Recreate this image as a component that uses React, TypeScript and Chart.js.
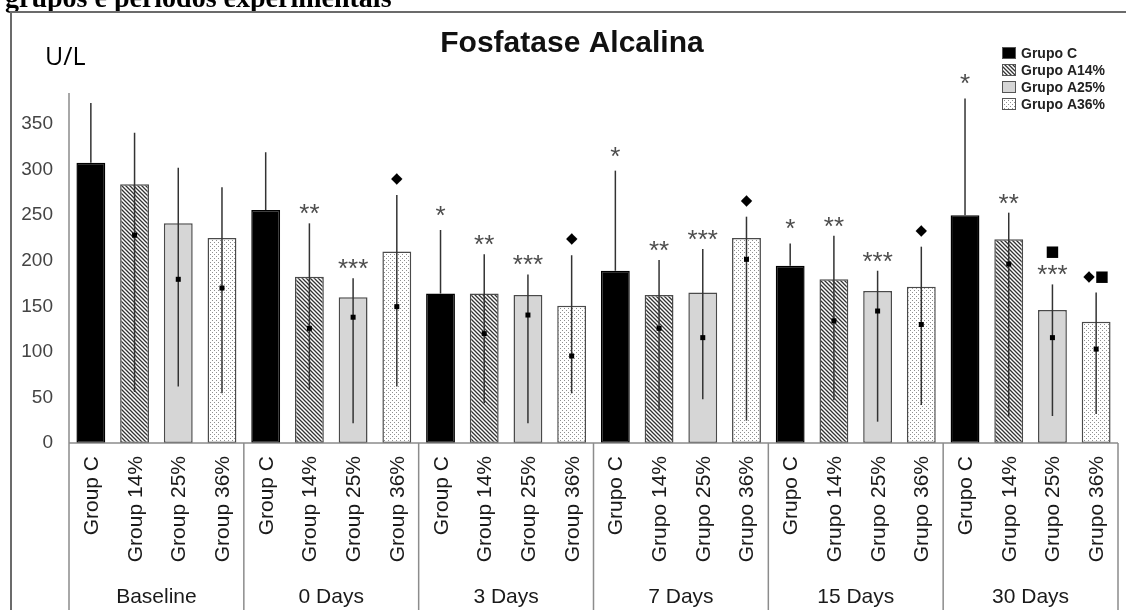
import React, { useEffect, useRef } from "react";
import { Chart, registerables } from "chart.js";

Chart.register(...registerables);

// ---------- data ----------
const periods = ["Baseline", "0 Days", "3 Days", "7 Days", "15 Days", "30 Days"];
const seriesNames = ["Grupo C", "Grupo A14%", "Grupo A25%", "Grupo A36%"];
const categoryLabels = [
  "Group C", "Group 14%", "Group 25%", "Group 36%",
  "Group C", "Group 14%", "Group 25%", "Group 36%",
  "Group C", "Group 14%", "Group 25%", "Group 36%",
  "Grupo C", "Grupo 14%", "Grupo 25%", "Grupo 36%",
  "Grupo C", "Grupo 14%", "Grupo 25%", "Grupo 36%",
  "Grupo C", "Grupo 14%", "Grupo 25%", "Grupo 36%",
];
const yTicks = [0, 50, 100, 150, 200, 250, 300, 350];

// bar heights (mean) per period
const grupoC = [307.5, 255.6, 164, 189, 194.6, 250];
const grupoA14 = [284, 182.5, 164, 162.4, 179.6, 223.5];
const grupoA25 = [241, 160, 162.4, 165, 166.8, 146];
const grupoA36 = [225, 210, 150.7, 225, 171.5, 133];

// whisker tops
const highC = [373, 319, 233.7, 298.8, 219, 378];
const highA14 = [340.5, 241, 207, 200.8, 227.5, 252.7];
const highA25 = [302, 180.7, 185, 212.9, 189, 174];
const highA36 = [280.5, 272, 206, 248.3, 215.4, 165];

// whisker bottoms (hidden for Grupo C)
const lowC = [null, null, null, null, null, null];
const lowA14 = [56, 58, 43.5, 36, 47, 29];
const lowA25 = [62, 21.6, 21.6, 48, 23.4, 29.6];
const lowA36 = [54.5, 62, 54.5, 24.5, 41.7, 31.8];

// central dots
const dotC = [null, null, null, null, null, null];
const dotA14 = [228, 125.8, 120, 125.8, 134, 196.4];
const dotA25 = [179.6, 138, 140.4, 115.6, 144.8, 115.6];
const dotA36 = [170, 149.6, 95.5, 201.5, 130, 103];

// significance marks
const marksC = ["", "", "*", "*", "*", "*"];
const marksA14 = ["", "**", "**", "**", "**", "**"];
const marksA25 = ["", "***", "***", "***", "***", "■\n***"];
const marksA36 = ["", "◆", "◆", "◆", "◆", "◆■"];

const chartTitle = "Fosfatase Alcalina";
const unitLabel = "U/L";
const captionText = "grupos e períodos experimentais";

// ---------- helpers ----------
function makeHatch(): CanvasPattern {
  const c = document.createElement("canvas");
  c.width = 4;
  c.height = 4;
  const g = c.getContext("2d")!;
  g.fillStyle = "#ffffff";
  g.fillRect(0, 0, 4, 4);
  g.strokeStyle = "#333333";
  g.lineWidth = 1.3;
  g.beginPath();
  g.moveTo(-1, -1);
  g.lineTo(5, 5);
  g.moveTo(-1, 3);
  g.lineTo(1, 5);
  g.moveTo(3, -1);
  g.lineTo(5, 1);
  g.stroke();
  return g.createPattern(c, "repeat")!;
}

function makeDots(): CanvasPattern {
  const c = document.createElement("canvas");
  c.width = 4;
  c.height = 4;
  const g = c.getContext("2d")!;
  g.fillStyle = "#ffffff";
  g.fillRect(0, 0, 4, 4);
  g.fillStyle = "#8f8f8f";
  g.fillRect(0, 0, 1, 1);
  g.fillRect(2, 2, 1, 1);
  return g.createPattern(c, "repeat")!;
}

export default function App() {
  const ref = useRef<HTMLCanvasElement>(null);

  useEffect(() => {
    const canvas = ref.current!;
    const hatch = makeHatch();
    const dots = makeDots();
    const fills: any[] = ["#000000", hatch, "#d6d6d6", dots];
    const borders = ["#000000", "#4a4a4a", "#4a4a4a", "#4a4a4a"];
    const seriesValues = [grupoC, grupoA14, grupoA25, grupoA36];
    const seriesHigh = [highC, highA14, highA25, highA36];
    const seriesLow = [lowC, lowA14, lowA25, lowA36];
    const seriesDot = [dotC, dotA14, dotA25, dotA36];
    const seriesMarks = [marksC, marksA14, marksA25, marksA36];

    const datasets = seriesNames.map((name, s) => ({
      label: name,
      data: categoryLabels.map((_, i) => (i % 4 === s ? seriesValues[s][Math.floor(i / 4)] : null)),
      backgroundColor: fills[s],
      borderColor: borders[s],
      borderWidth: 1.5,
      borderSkipped: false as any,
      barPercentage: 0.66,
      categoryPercentage: 1,
      skipNull: true,
    }));

    const drawMarks = (ctx: CanvasRenderingContext2D, str: string, cx: number, yTop: number) => {
      const lines = str.split("\n").reverse();
      let cy = yTop;
      lines.forEach((line, k) => {
        const isStar = line.includes("*");
        const off = isStar ? (line.length === 1 ? 19 : 14) : 16;
        cy = k === 0 ? yTop - off : cy - 18;
        ctx.font = isStar ? '26px "Liberation Sans"' : '15px "DejaVu Sans"';
        ctx.fillStyle = isStar ? "#4d4d4d" : "#000000";
        ctx.textAlign = "center";
        ctx.textBaseline = "alphabetic";
        const m = ctx.measureText(line);
        const base = cy + (m.actualBoundingBoxAscent - m.actualBoundingBoxDescent) / 2;
        ctx.fillText(line, cx, base);
      });
    };

    const overlay = {
      id: "overlay",
      afterDatasetsDraw(chart: any) {
        const ctx: CanvasRenderingContext2D = chart.ctx;
        const xs = chart.scales.x;
        const ys = chart.scales.y;
        ctx.save();
        for (let s = 0; s < 4; s++) {
          for (let g = 0; g < periods.length; g++) {
            const idx = g * 4 + s;
            const cx = xs.getPixelForValue(idx);
            const hi = ys.getPixelForValue(seriesHigh[s][g]);
            const lowV = seriesLow[s][g];
            const lo = ys.getPixelForValue(lowV == null ? seriesValues[s][g] : lowV);
            ctx.strokeStyle = "#333333";
            ctx.lineWidth = 1.5;
            ctx.beginPath();
            ctx.moveTo(cx, lo);
            ctx.lineTo(cx, hi);
            ctx.stroke();
            const d = seriesDot[s][g];
            if (d != null) {
              const dy = ys.getPixelForValue(d);
              ctx.fillStyle = "#000000";
              ctx.fillRect(cx - 2.5, dy - 2.5, 5, 5);
            }
            const mk = seriesMarks[s][g];
            if (mk) drawMarks(ctx, mk, cx, hi);
          }
        }
        ctx.restore();
      },
      afterDraw(chart: any) {
        const ctx: CanvasRenderingContext2D = chart.ctx;
        const xs = chart.scales.x;
        const area = chart.chartArea;
        ctx.save();

        // caption (cut at top)
        ctx.fillStyle = "#000000";
        ctx.font = 'bold 28px "Liberation Serif"';
        ctx.textAlign = "left";
        ctx.textBaseline = "alphabetic";
        ctx.fillText(captionText, 5, 7);

        // outer frame
        ctx.strokeStyle = "#6b6b6b";
        ctx.lineWidth = 2;
        ctx.strokeRect(11, 12, 1200, 700);

        // title
        ctx.fillStyle = "#111111";
        ctx.font = 'bold 30px "Liberation Sans"';
        ctx.textAlign = "center";
        ctx.fillText(chartTitle, 572, 52);

        // unit
        ctx.font = '25px "Open Sans"';
        ctx.textAlign = "left";
        ctx.fillStyle = "#000000";
        ctx.fillText(unitLabel, 45, 65);

        // axes lines
        ctx.strokeStyle = "#8c8c8c";
        ctx.lineWidth = 1.5;
        ctx.beginPath();
        ctx.moveTo(area.left, area.top);
        ctx.lineTo(area.left, 610);
        ctx.moveTo(area.left, area.bottom);
        ctx.lineTo(area.right, area.bottom);
        for (let k = 1; k <= periods.length; k++) {
          const bx =
            k === periods.length
              ? area.right
              : (xs.getPixelForValue(k * 4 - 1) + xs.getPixelForValue(k * 4)) / 2;
          ctx.moveTo(bx, area.bottom);
          ctx.lineTo(bx, 610);
        }
        ctx.stroke();

        // category labels (rotated)
        ctx.fillStyle = "#1a1a1a";
        ctx.font = '21px "Liberation Sans"';
        categoryLabels.forEach((lab, i) => {
          const cx = xs.getPixelForValue(i);
          ctx.save();
          ctx.translate(cx + 7, area.bottom + 13);
          ctx.rotate(-Math.PI / 2);
          ctx.textAlign = "right";
          ctx.textBaseline = "alphabetic";
          ctx.fillText(lab, 0, 0);
          ctx.restore();
        });

        // period labels
        ctx.textAlign = "center";
        ctx.textBaseline = "alphabetic";
        periods.forEach((p, g) => {
          const cx = (xs.getPixelForValue(g * 4 + 1) + xs.getPixelForValue(g * 4 + 2)) / 2;
          ctx.fillText(p, cx, 603);
        });

        // legend
        const rows = [53, 70, 87, 104];
        ctx.font = 'bold 14px "Liberation Sans"';
        ctx.textAlign = "left";
        ctx.textBaseline = "middle";
        seriesNames.forEach((n, s) => {
          const y = rows[s];
          ctx.fillStyle = fills[s];
          ctx.fillRect(1002, y - 6, 14, 12);
          ctx.strokeStyle = "#555555";
          ctx.lineWidth = 1;
          ctx.strokeRect(1002.5, y - 5.5, 13, 11);
          ctx.fillStyle = "#222222";
          ctx.fillText(n, 1021, y + 1);
        });

        ctx.restore();
      },
    };

    const chart = new Chart(canvas, {
      type: "bar",
      data: { labels: categoryLabels, datasets: datasets as any },
      options: {
        responsive: false,
        animation: false,
        devicePixelRatio: 1,
        layout: { padding: { top: 93, right: 8, bottom: 167, left: 0 } },
        plugins: { legend: { display: false }, tooltip: { enabled: false }, title: { display: false } },
        scales: {
          x: { display: false, offset: true, grid: { display: false } },
          y: {
            min: 0,
            max: 384,
            grid: { display: false, drawTicks: false },
            border: { display: false },
            ticks: {
              stepSize: 50,
              padding: 16,
              color: "#444444",
              font: { family: "Liberation Sans", size: 19 },
            },
            afterBuildTicks: (s: any) => {
              s.ticks = s.ticks.filter((t: any) => yTicks.includes(t.value));
            },
            afterFit: (s: any) => {
              s.width = 69;
            },
          },
        },
      },
      plugins: [overlay],
    });
    return () => chart.destroy();
  }, []);

  return (
    <div style={{ position: "fixed", left: 0, top: 0, width: 1126, height: 610, background: "#ffffff" }}>
      <canvas ref={ref} width={1126} height={610} style={{ width: 1126, height: 610, display: "block" }} />
    </div>
  );
}
